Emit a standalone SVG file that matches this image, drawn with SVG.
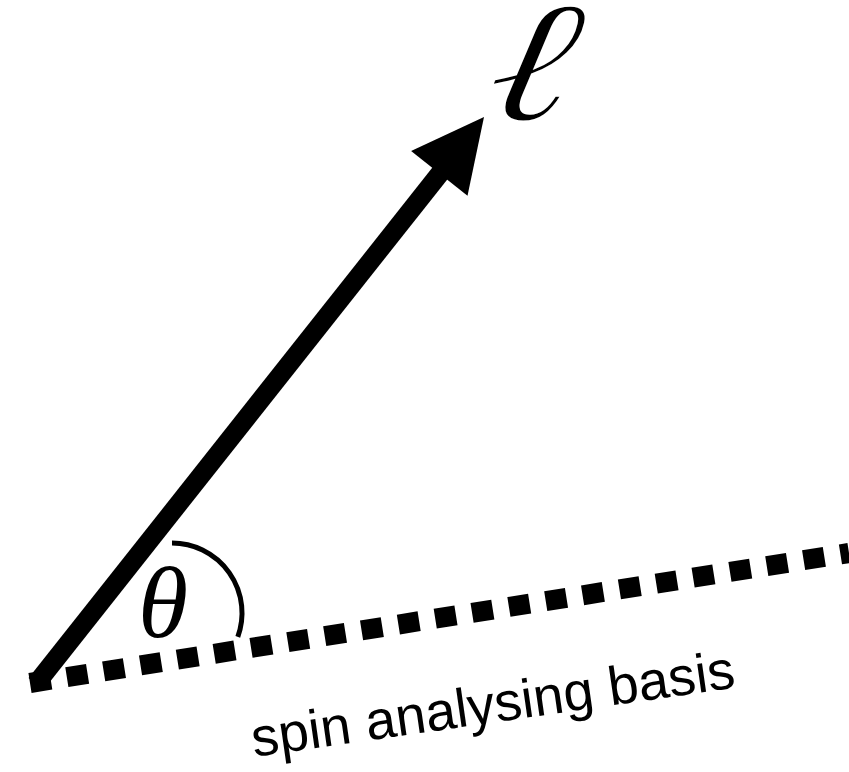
<svg xmlns="http://www.w3.org/2000/svg" width="849" height="772" viewBox="0 0 849 772">
<style>
.math{font-family:"Liberation Serif","DejaVu Serif",serif;font-style:italic;fill:#000}
.ell{font-family:"DejaVu Serif",serif;font-style:italic;fill:#000;stroke:#fff;stroke-width:2.5}
.lbl{font-family:"Liberation Sans","Helvetica",sans-serif;fill:#000}
</style>
<rect width="849" height="772" fill="#fff"/>
<g id="connectors">
<line id="basis" x1="30" y1="683" x2="849" y2="553" stroke="#000" stroke-width="20" stroke-dasharray="21 16.3"/>
<line id="shaft" x1="36" y1="684" x2="445" y2="167" stroke="#000" stroke-width="19"/>
<polygon id="head" points="484,117 467.5,195.8 411.1,151" fill="#000"/>
<path id="angle-arc" d="M172 543 A70 70 0 0 1 237.8 636.9" fill="none" stroke="#000" stroke-width="5"/>
</g>
<g id="label-theta"><text class="math" x="138" y="637" font-size="102">θ</text></g>
<g id="label-ell"><text class="ell" x="0" y="0" font-size="172" transform="translate(480 120) skewX(-12) scale(1.2 1)">ℓ</text></g>
<g id="label-basis"><text class="lbl" x="254" y="757" font-size="54.5" transform="rotate(-8.2 254 757)">spin analysing basis</text></g>
</svg>
